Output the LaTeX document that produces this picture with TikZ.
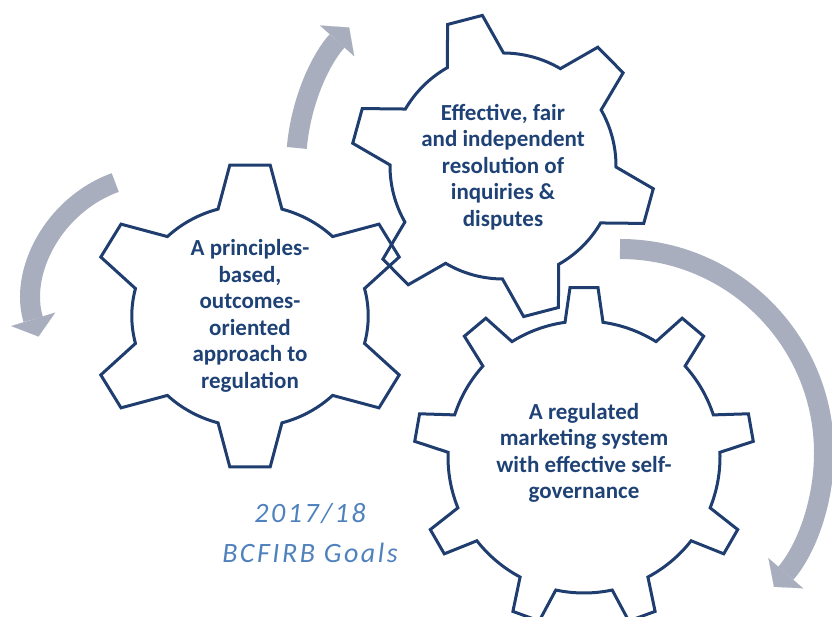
\documentclass[tikz,border=0pt]{standalone}
\usepackage{fontspec}
\setmainfont{Carlito}
\newfontfamily\spacedfont[LetterSpace=9]{Carlito}
\usetikzlibrary{arrows.meta}

\definecolor{gearblue}{RGB}{31,61,110}
\definecolor{goalblue}{RGB}{31,66,118}
\definecolor{arrowgray}{RGB}{168,174,190}
\definecolor{yearblue}{RGB}{79,129,189}

\begin{document}
\begin{tikzpicture}[x=1pt,y=1pt,
    gearline/.style={draw=gearblue,line width=3pt,line join=miter},
    goal/.style={align=center,text=goalblue,font=\fontsize{23}{26.5}\selectfont\bfseries},
    year/.style={align=center,text=yearblue,font=\fontsize{28}{40}\spacedfont\itshape},
    cyclearrow/.style={draw=arrowgray,line width=20pt,
      -{Triangle[width=46pt,length=18pt,line width=0.1pt]}},
    % teeth, first tooth angle, inner r, outer r, half width at root, half width at tip
    pics/gear/.style n args={6}{code={
      \pgfmathsetmacro\ab{asin(#5/#3)}
      \pgfmathsetmacro\at{asin(#6/#4)}
      \pgfmathsetmacro\st{360/#1}
      \draw[gearline] (#2-\ab:#3)
        \foreach \k in {1,...,#1}{
          -- ({#2+(\k-1)*\st-\at}:#4) -- ({#2+(\k-1)*\st+\at}:#4)
          -- ({#2+(\k-1)*\st+\ab}:#3)
          arc[start angle={#2+(\k-1)*\st+\ab},end angle={#2+\k*\st-\ab},radius=#3]
        } -- cycle;
    }}]
  \useasboundingbox (0,0) rectangle (832,617);

  \coordinate (hubA) at (503,451);
  \coordinate (hubB) at (158,317);
  \coordinate (hubC) at (620,164);

  % the three turning arrows
  \draw[cyclearrow] (hubA) ++(175:207) arc[start angle=175,end angle=138,radius=207];
  \draw[cyclearrow] (hubB) ++(110:125) arc[start angle=110,end angle=197,radius=125];
  \draw[cyclearrow] (hubC) ++(90:204) arc[start angle=90,end angle=-41,radius=204];

  % gears
  \pic[xscale=1.065] at (250,301) {gear={6}{90}{111}{152}{30}{19}};
  \pic at (503,451) {gear={6}{44.6}{113}{152}{29}{18}};
  \pic at (584,160) {gear={9}{90}{136}{170}{19}{14}};

  \node[goal] (principles) at (250,301) {A principles-\\based,\\outcomes-\\oriented\\approach to\\regulation};
  \node[goal] (disputes) at (503,450) {Effective, fair\\and independent\\resolution of\\inquiries \&\\disputes};
  \node[goal] (governance) at (584,164) {A regulated\\marketing system\\with effective self-\\governance};

  \node[year] (goals) at (310,84) {2017/18\\BCFIRB Goals};
\end{tikzpicture}
\end{document}
